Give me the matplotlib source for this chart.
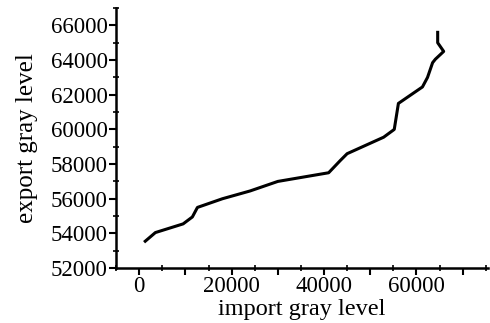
import numpy as np
import matplotlib.pyplot as plt
from matplotlib.ticker import MultipleLocator, FuncFormatter

# values
imp = [1300, 3500, 9500, 11500, 12600, 18000, 24000, 30000, 41000, 43500,
       45000, 52900, 55200, 56100, 61300, 62400, 63500, 64100, 65900, 64600, 64600]
exp = [53550, 54050, 54550, 54950, 55500, 56000, 56450, 57000, 57500, 58200,
       58600, 59550, 60000, 61500, 62450, 63000, 63850, 64050, 64500, 65000, 65600]

plt.rcParams['font.family'] = ['Liberation Serif', 'DejaVu Serif']

fig = plt.figure(figsize=(4.9, 3.23), dpi=100)
ax = fig.add_axes([0.237, 0.170, 0.759, 0.805])

ax.plot(imp, exp, color='black', lw=2.2, solid_joinstyle='round')

ax.set_xlim(-5000, 75500)
ax.set_ylim(52000, 67000)

ax.xaxis.set_major_locator(MultipleLocator(10000))
ax.xaxis.set_minor_locator(MultipleLocator(5000))
ax.xaxis.set_major_formatter(FuncFormatter(lambda v, p: '%d' % v if v % 20000 == 0 else ''))
ax.yaxis.set_major_locator(MultipleLocator(2000))
ax.yaxis.set_minor_locator(MultipleLocator(1000))

for s in ['top', 'right']:
    ax.spines[s].set_visible(False)
for s in ['left', 'bottom']:
    ax.spines[s].set_linewidth(1.8)

ax.tick_params(which='major', direction='out', length=5, width=1.5, labelsize=16.5, pad=1)
ax.tick_params(which='minor', direction='inout', length=4, width=1.2)

ax.set_xlabel('import gray level', fontsize=17.5, labelpad=1)
ax.set_ylabel('export gray level', fontsize=18, labelpad=9)

fig.savefig('out.png', dpi=100)
